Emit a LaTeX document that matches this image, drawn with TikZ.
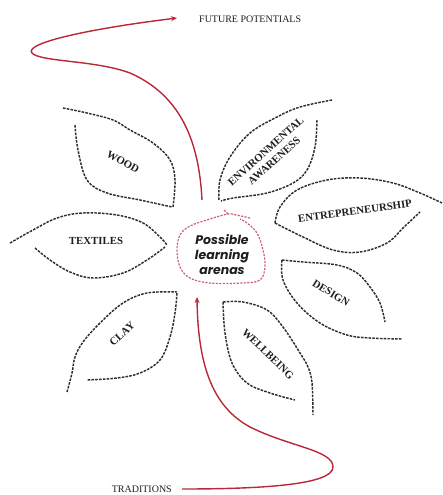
\documentclass[tikz,border=0pt]{standalone}
\usepackage{fontspec}
\setmainfont{Liberation Serif}
\newfontfamily\blobfont{Poppins}
\usetikzlibrary{arrows.meta}
\definecolor{arrowred}{RGB}{185,40,55}
\definecolor{blobpink}{RGB}{205,95,115}
\definecolor{leafgray}{RGB}{45,45,45}
\definecolor{textgray}{RGB}{30,30,30}
\tikzset{
  leaf/.style={draw=leafgray, line width=1.45pt, dash pattern=on 2.6pt off 1.2pt, line cap=butt},
  blobline/.style={draw=blobpink, line width=1.2pt, dash pattern=on 2.2pt off 1.3pt},
  lbl/.style={text=textgray, font=\fontsize{10.8}{12.5}\selectfont\bfseries, inner sep=0pt, align=center},
  bloblbl/.style={text=textgray, font=\blobfont\fontsize{12.5}{15}\selectfont\bfseries\itshape, inner sep=0pt, align=center},
  endlbl/.style={text=textgray, font=\fontsize{10}{12}\selectfont, inner sep=0pt},
  redarrow/.style={draw=arrowred, line width=1.4pt, -{Stealth[length=6pt,width=5pt]}}
}
\begin{document}
\begin{tikzpicture}[x=1pt,y=-1pt]
\useasboundingbox (0,0) rectangle (443,495);

% WOOD leaf
\draw[leaf] plot[smooth, tension=0.6] coordinates {(63,108) (87,113) (113,120) (130,130) (153,143) (170,160) (175,180) (173,207)};
\draw[leaf] plot[smooth, tension=0.6] coordinates {(75,125) (78,150) (87,180) (107,193) (140,200) (172,207)};
% ENVIRONMENTAL AWARENESS leaf
\draw[leaf] plot[smooth, tension=0.6] coordinates {(332,100) (300,107) (277,117) (250,133) (230,157) (220,180) (219,200)};
\draw[leaf] plot[smooth, tension=0.6] coordinates {(317,120) (315,147) (307,170) (293,183) (267,193) (233,198) (221,201)};
% ENTREPRENEURSHIP leaf
\draw[leaf] plot[smooth, tension=0.6] coordinates {(275,223) (280,207) (297,190) (327,180) (360,178) (393,183) (420,193) (442,203)};
\draw[leaf] plot[smooth, tension=0.6] coordinates {(275,223) (303,237) (333,250) (360,252) (387,243) (403,228) (420,212)};
% TEXTILES leaf
\draw[leaf] plot[smooth, tension=0.6] coordinates {(10,243) (33,230) (57,218) (83,213) (117,215) (143,223) (160,237) (167,245)};
\draw[leaf] plot[smooth, tension=0.6] coordinates {(35,248) (50,260) (70,272) (93,278) (123,273) (147,260) (165,247)};
% DESIGN leaf
\draw[leaf] plot[smooth, tension=0.6] coordinates {(282,260) (303,262) (337,265) (357,273) (370,287) (380,303) (385,322)};
\draw[leaf] plot[smooth, tension=0.6] coordinates {(282,260) (283,280) (297,303) (320,323) (347,335) (370,338) (402,339)};
% CLAY leaf
\draw[leaf] plot[smooth, tension=0.6] coordinates {(67,392) (72,373) (75,357) (83,342) (100,323) (123,303) (147,293) (177,292)};
\draw[leaf] plot[smooth, tension=0.6] coordinates {(177,293) (175,313) (170,337) (160,360) (140,373) (117,378) (87,380)};
% WELLBEING leaf
\draw[leaf] plot[smooth, tension=0.6] coordinates {(223,302) (243,302) (267,310) (283,327) (300,353) (308,367) (312,383) (313,415)};
\draw[leaf] plot[smooth, tension=0.6] coordinates {(223,302) (225,333) (232,363) (247,383) (270,393) (295,400)};

% centre blob
\draw[blobline] plot[smooth, tension=0.6] coordinates {(250,218) (236,215) (228,214) (210,219) (190,226) (180,235) (177,250) (180,267) (190,278) (210,283) (243,283) (260,280) (265,267) (263,250) (257,233) (247,223) (240,219)};
\draw[blobline] (224,210) -- (228,214);

% labels
\node[lbl, rotate=-30] (wood) at (123,162) {WOOD};
\node[lbl, rotate=42] (env) at (270,156) {ENVIRONMENTAL\\AWARENESS};
\node[lbl, rotate=8] (entre) at (355,211) {ENTREPRENEURSHIP};
\node[lbl] (textiles) at (96,241) {TEXTILES};
\node[lbl, rotate=-32] (design) at (331,293) {DESIGN};
\node[lbl, rotate=42] (clay) at (122,334) {CLAY};
\node[lbl, rotate=-44] (wellbeing) at (268,354) {WELLBEING};
\node[bloblbl] (centre) at (222,255) {Possible\\learning\\arenas};

\node[endlbl, anchor=west] (fp) at (199,19) {FUTURE POTENTIALS};
\node[endlbl, anchor=east] (tr) at (172,489) {TRADITIONS};

% red arrows
\coordinate (topstart) at (202,200);
\coordinate (topmid) at (130,73);
\coordinate (topleft) at (32,53);
\coordinate (toptip) at (177,18);
\draw[redarrow] (topstart) .. controls (199,140) and (180,95) .. (topmid)
  .. controls (95,60) and (40,62) .. (topleft)
  .. controls (24,44) and (80,30) .. (toptip);

\coordinate (botstart) at (182,489);
\coordinate (botright) at (333,467);
\coordinate (botmid) at (250,427);
\coordinate (bottip) at (197,297);
\draw[redarrow] (botstart) .. controls (260,489) and (333,485) .. (botright)
  .. controls (333,450) and (290,447) .. (botmid)
  .. controls (215,408) and (198,370) .. (bottip);
\end{tikzpicture}
\end{document}
